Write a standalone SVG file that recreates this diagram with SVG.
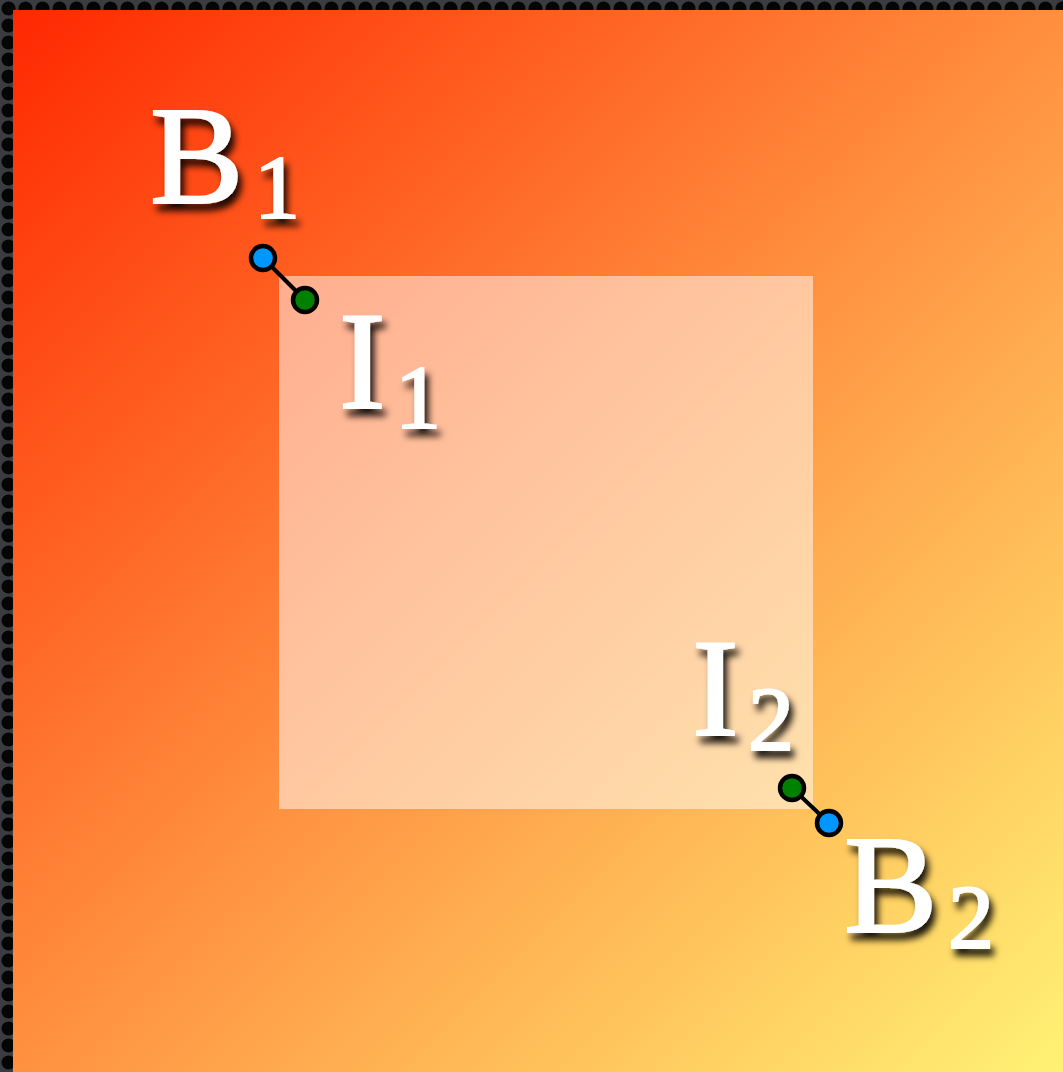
<svg xmlns="http://www.w3.org/2000/svg" width="1063" height="1072" viewBox="0 0 1063 1072">
<defs>
<pattern id="tex" width="17" height="17" patternUnits="userSpaceOnUse">
<rect width="17" height="17" fill="#3b3c40"/>
<circle cx="8.5" cy="8.5" r="7" fill="#050506"/>
</pattern>
<linearGradient id="bg" x1="13" y1="10" x2="1063" y2="1072" gradientUnits="userSpaceOnUse">
<stop offset="0" stop-color="#ff2800"/>
<stop offset="0.5" stop-color="#ff9040"/>
<stop offset="1" stop-color="#fff275"/>
</linearGradient>
<filter id="sh" x="-30%" y="-30%" width="160%" height="160%">
<feDropShadow dx="4" dy="7" stdDeviation="3.5" flood-color="#000" flood-opacity="0.9"/>
</filter>
<style>
.lbl{font-family:"Liberation Serif","DejaVu Serif",serif;fill:#fff;stroke:#fff;stroke-width:2.2;filter:url(#sh)}
.big{font-size:140px}
.sub{font-size:92px}
.pt{stroke:#000;stroke-width:4.5}
.link{stroke:#000;stroke-width:4}
</style>
</defs>
<rect width="1063" height="1072" fill="url(#tex)"/>
<rect x="13" y="10" width="1050" height="1062" fill="url(#bg)"/>
<rect id="inner" x="279" y="276" width="534" height="533" fill="#fff" fill-opacity="0.5"/>
<g id="connectors">
<line class="link" x1="263" y1="258" x2="305" y2="300"/>
<line class="link" x1="792" y1="788" x2="829" y2="823"/>
</g>
<g id="B1">
<circle class="pt" cx="263" cy="258" r="12" fill="#0096ff"/>
<text class="lbl big" x="150" y="203">B</text>
<text class="lbl sub" x="254" y="218">1</text>
</g>
<g id="I1">
<circle class="pt" cx="305" cy="300" r="12" fill="#008000"/>
<text class="lbl big" x="339" y="408">I</text>
<text class="lbl sub" x="395" y="428">1</text>
</g>
<g id="I2">
<circle class="pt" cx="792" cy="788" r="12" fill="#008000"/>
<text class="lbl big" x="692" y="735">I</text>
<text class="lbl sub" x="748" y="750">2</text>
</g>
<g id="B2">
<circle class="pt" cx="829" cy="823" r="12" fill="#0096ff"/>
<text class="lbl big" x="844" y="932">B</text>
<text class="lbl sub" x="948" y="948">2</text>
</g>
</svg>
